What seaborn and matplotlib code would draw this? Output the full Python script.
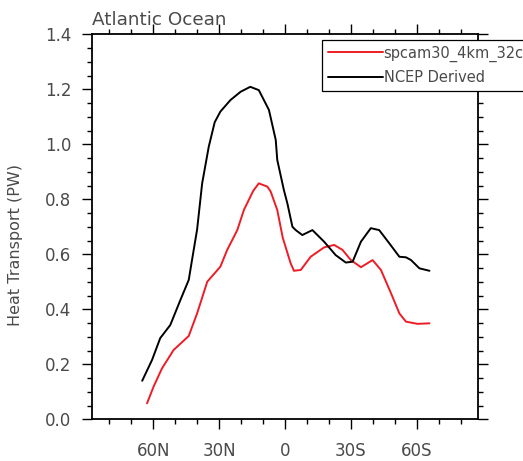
import matplotlib
matplotlib.use("Agg")
import matplotlib.pyplot as plt
import pandas as pd
import seaborn as sns
from matplotlib.ticker import MultipleLocator, FixedLocator

# Latitude (N positive) and heat transport (PW)
lat_model = [62.8, 59.8, 56.0, 50.7, 43.8, 40.0, 35.4, 29.4, 26.3, 21.7, 18.7,
             14.5, 11.9, 8.0, 6.5, 3.5, 1.0, -2.6, -4.1, -7.2, -11.7, -17.8,
             -22.4, -26.2, -30.0, -34.6, -39.9, -43.7, -48.3, -52.1, -55.1,
             -60.4, -65.8]
ht_model = [0.058, 0.119, 0.185, 0.252, 0.303, 0.385, 0.500, 0.555, 0.616,
            0.688, 0.761, 0.830, 0.858, 0.846, 0.828, 0.761, 0.660, 0.567,
            0.540, 0.543, 0.591, 0.625, 0.634, 0.616, 0.579, 0.553, 0.579,
            0.543, 0.458, 0.385, 0.355, 0.347, 0.349]

lat_ncep = [65.0, 60.5, 56.8, 52.2, 47.6, 43.8, 42.3, 40.0, 37.7, 34.7, 32.0,
            29.4, 24.8, 20.2, 15.8, 11.9, 7.3, 4.2, 3.5, 0.5, -1.1, -3.4,
            -4.9, -7.9, -12.5, -17.8, -23.1, -27.7, -30.8, -34.6, -39.1,
            -42.9, -47.5, -52.1, -55.1, -57.4, -61.2, -65.8]
ht_ncep = [0.140, 0.216, 0.295, 0.343, 0.434, 0.507, 0.580, 0.690, 0.858,
           0.991, 1.080, 1.119, 1.161, 1.191, 1.209, 1.197, 1.125, 1.016,
           0.943, 0.834, 0.785, 0.700, 0.688, 0.670, 0.688, 0.646, 0.597,
           0.570, 0.573, 0.646, 0.695, 0.688, 0.640, 0.591, 0.589, 0.579,
           0.549, 0.540]

labels = ["spcam30_4km_32col", "NCEP Derived"]
colors = ["#ee1c25", "black"]

xticks = [60, 30, 0, -30, -60]
xticklabels = ["60N", "30N", "0", "30S", "60S"]

df = pd.concat([
    pd.DataFrame({"lat": lat_model, "ht": ht_model, "run": labels[0]}),
    pd.DataFrame({"lat": lat_ncep, "ht": ht_ncep, "run": labels[1]}),
])

sns.set_style("white")
txt = "#4a4a4a"
plt.rcParams["font.family"] = ["DejaVu Sans"]

fig = plt.figure(figsize=(5.23, 4.61), dpi=100)
ax = fig.add_axes([0.1753, 0.0905, 0.7391, 0.8351])

sns.lineplot(data=df, x="lat", y="ht", hue="run", hue_order=labels,
             palette=colors, linewidth=1.4, ax=ax, estimator=None, sort=True)

ax.set_xlim(88, -88)
ax.set_ylim(0, 1.4)
ax.xaxis.set_major_locator(FixedLocator(xticks))
ax.set_xticklabels(xticklabels)
ax.xaxis.set_minor_locator(MultipleLocator(10))
ax.yaxis.set_major_locator(MultipleLocator(0.2))
ax.yaxis.set_minor_locator(MultipleLocator(0.05))
ax.yaxis.set_major_formatter(plt.FormatStrFormatter("%.1f"))

for s in ax.spines.values():
    s.set_color("black")
    s.set_linewidth(1.3)
ax.tick_params(which="both", direction="out", top=True, right=True,
               bottom=True, left=True, color="black", width=1.0)
ax.tick_params(which="major", length=7.5)
ax.tick_params(which="minor", length=3.6)
ax.tick_params(axis="x", which="major", labelsize=12, labelcolor=txt, pad=9)
ax.tick_params(axis="y", which="major", labelsize=12, labelcolor=txt, pad=7)

ax.set_xlabel("")
ax.set_ylabel("Heat Transport (PW)", fontsize=11.5, color=txt)
ax.yaxis.set_label_coords(-0.178, 0.453)
ax.set_title("Atlantic Ocean", loc="left", fontsize=13.2, color=txt, pad=7)

# legend box runs past the right edge of the figure, as in the original
leg = ax.legend(loc="upper left", bbox_to_anchor=(322 / 523, 1 - 40 / 461),
                bbox_transform=fig.transFigure, borderaxespad=0,
                fontsize=10.5, handlelength=3.8, handletextpad=0.05,
                borderpad=0.38, labelspacing=0.6, fancybox=False,
                framealpha=1, edgecolor="black")
leg.get_frame().set_linewidth(0.9)
for t in leg.get_texts():
    t.set_color(txt)

fig.savefig("out.png", dpi=100)
